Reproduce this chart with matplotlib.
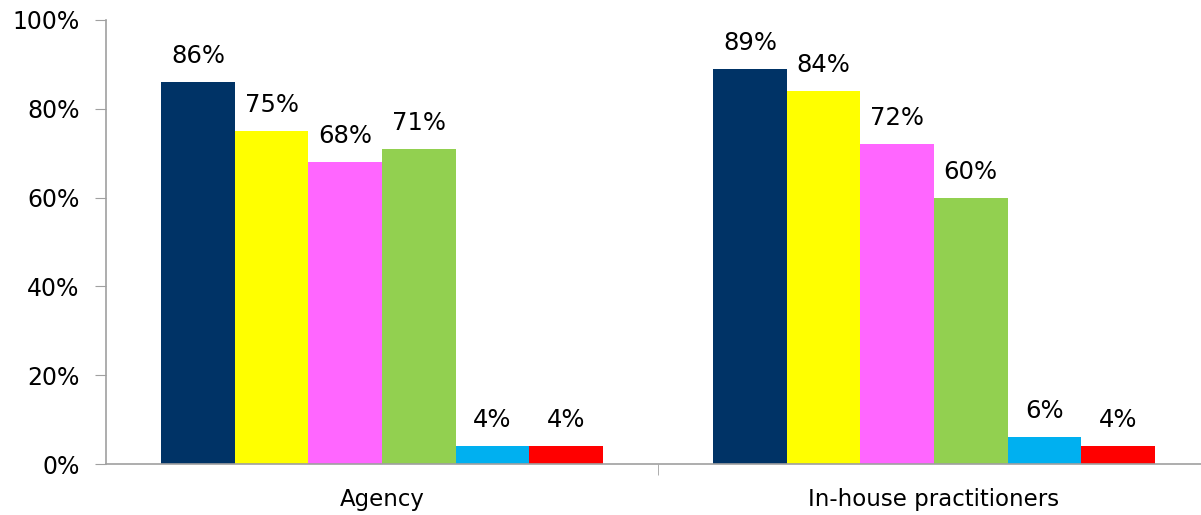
import numpy as np
import matplotlib
matplotlib.use("Agg")
from matplotlib import pyplot as plt
from matplotlib.ticker import PercentFormatter

groups = ["Agency", "In-house practitioners"]
series_colors = ["#003366", "#FFFF00", "#FF66FF", "#92D050", "#00B0F0", "#FF0000"]
# one list per series: [Agency, In-house]
series_values = [
    [86, 89],
    [75, 84],
    [68, 72],
    [71, 60],
    [4, 6],
    [4, 4],
]

plt.rcParams["font.family"] = "DejaVu Sans"
fig = plt.figure(figsize=(12.01, 5.15), dpi=100)
# axes runs slightly past the right edge of the figure
ax = fig.add_axes([106 / 1201, 1 - 464 / 515, 1104 / 1201, (464 - 20) / 515])

x = np.arange(len(groups))
n = len(series_values)
width = 0.80 / n
for i, (vals, col) in enumerate(zip(series_values, series_colors)):
    pos = x + (i - (n - 1) / 2) * width
    bars = ax.bar(pos, vals, width=width, color=col, zorder=2)
    for b, v in zip(bars, vals):
        ax.annotate(f"{v}%", (b.get_x() + b.get_width() / 2, v),
                    xytext=(0, 10), textcoords="offset points",
                    ha="center", va="bottom", fontsize=17.5)

ax.set_xlim(-0.5, 1.5)
ax.set_ylim(0, 100)
ax.set_yticks(range(0, 101, 20))
ax.yaxis.set_major_formatter(PercentFormatter(decimals=0))
ax.set_xticks(x)
ax.set_xticklabels(groups)
ax.set_xticks([0.5], minor=True)

for s in ["top", "right"]:
    ax.spines[s].set_visible(False)
for s in ["left", "bottom"]:
    ax.spines[s].set_color("#A0A0A0")
    ax.spines[s].set_linewidth(1.2)

ax.tick_params(axis="y", length=8, color="#A0A0A0", labelsize=17, pad=11)
ax.tick_params(axis="x", which="major", length=0, labelsize=16.5, pad=17)
ax.tick_params(axis="x", which="minor", length=8, color="#A0A0A0")

fig.savefig("out.png", dpi=100)
